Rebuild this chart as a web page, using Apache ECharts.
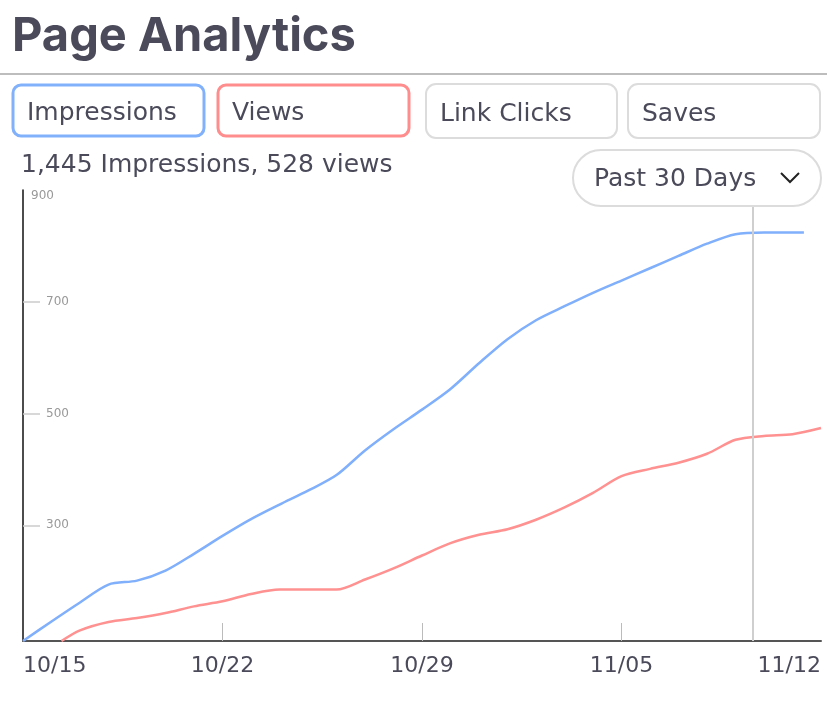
<!DOCTYPE html>
<html>
<head>
<meta charset="utf-8">
<script src="https://cdn.jsdelivr.net/npm/echarts@6/dist/echarts.min.js"></script>
<style>
  html, body { margin: 0; padding: 0; background: #fff; }
  #chart { width: 827px; height: 702px; }
</style>
</head>
<body>
<div id="chart"></div>
<script>
// x: days since 10/15, y: cumulative counts
var dateLabels = ['10/15', '10/22', '10/29', '11/05', '11/12'];
var yLabels = [300, 500, 700, 900];

var impressionDays = [0, 1, 2, 3, 4, 5, 6, 7, 8, 9, 10, 11, 12, 13, 14, 15, 16, 17, 18, 19, 20, 21, 22, 23, 24, 25, 26, 27, 27.4];
var impressions = [93, 128, 162, 194, 201, 219, 249, 281, 311, 337, 362, 390, 434, 472, 507, 544, 590, 633, 667, 692, 716, 738, 760, 782, 804, 821, 824, 824, 824];

var viewDays = [1.35, 2, 3, 4, 5, 6, 7, 8, 9, 10, 11, 12, 13, 14, 15, 16, 17, 18, 19, 20, 21, 22, 23, 24, 25, 26, 27, 28];
var views = [93, 112, 127, 134, 143, 155, 164, 177, 185, 185, 185, 203, 223, 246, 268, 283, 293, 310, 332, 358, 388, 401, 412, 428, 453, 460, 463, 474];

var cursorDay = 25.6;

var FONT = '"DejaVu Sans"';
var TITLE_FONT = 'Inter';
var TEXT = '#4b4a5a';

function pairs(xs, ys) {
    return xs.map(function (x, i) { return [x, ys[i]]; });
}

function button(x, y, w, h, r, stroke, lw, label) {
    return [
        {
            type: 'rect', z: 100,
            shape: { x: x, y: y, width: w, height: h, r: r },
            style: { fill: '#fff', stroke: stroke, lineWidth: lw }
        },
        {
            type: 'text', z: 101, x: x + 14, y: y + h / 2 + 3,
            style: { text: label, fill: TEXT, font: '25px ' + FONT, verticalAlign: 'middle' }
        }
    ];
}

var chart = echarts.init(document.getElementById('chart'));

var graphics = [
    {
        type: 'text', z: 100, x: 12, y: 37,
        style: { text: 'Page Analytics', fill: TEXT, font: 'bold 47px ' + TITLE_FONT, verticalAlign: 'middle' }
    },
    {
        type: 'line', z: 100,
        shape: { x1: 0, y1: 74, x2: 827, y2: 74 },
        style: { stroke: '#bdbdbd', lineWidth: 2 }
    },
    {
        type: 'text', z: 100, x: 21, y: 165,
        style: { text: '1,445 Impressions, 528 views', fill: TEXT, font: '25px ' + FONT, verticalAlign: 'middle' }
    },
    {
        type: 'rect', z: 100,
        shape: { x: 573, y: 150, width: 248, height: 56, r: 28 },
        style: { fill: '#fff', stroke: '#dcdcdc', lineWidth: 2 }
    },
    {
        type: 'text', z: 101, x: 594, y: 179,
        style: { text: 'Past 30 Days', fill: TEXT, font: '25px ' + FONT, verticalAlign: 'middle' }
    },
    {
        type: 'polyline', z: 101,
        shape: { points: [[781, 173], [790, 182], [799, 173]] },
        style: { stroke: '#222', lineWidth: 2, fill: null }
    }
]
    .concat(button(13, 85, 191, 51, 8, '#82b1fb', 3, 'Impressions'))
    .concat(button(218, 85, 191, 51, 8, '#ff8d8d', 3, 'Views'))
    .concat(button(426, 84, 191, 54, 10, '#dcdcdc', 2, 'Link Clicks'))
    .concat(button(628, 84, 192, 54, 10, '#dcdcdc', 2, 'Saves'));

var option = {
    animation: false,
    graphic: graphics,
    grid: { left: 23, right: 6, top: 190, bottom: 61 },
    xAxis: {
        type: 'value',
        min: 0,
        max: 28,
        interval: 7,
        axisLine: { lineStyle: { color: '#555', width: 2 } },
        axisTick: {
            inside: true, length: 18, customValues: [7, 14, 21],
            lineStyle: { color: '#bbb', width: 1 }
        },
        axisLabel: {
            margin: 14,
            fontFamily: FONT, fontSize: 22, color: TEXT,
            alignMinLabel: 'left', alignMaxLabel: 'right',
            formatter: function (v) { return dateLabels[Math.round(v / 7)]; }
        },
        splitLine: { show: false }
    },
    yAxis: {
        type: 'value',
        min: 93,
        max: 900,
        axisLine: { show: true, lineStyle: { color: '#111', width: 1.5 } },
        axisTick: {
            show: true, inside: true, length: 17, customValues: [300, 500, 700],
            lineStyle: { color: '#ccc', width: 1.5 }
        },
        axisLabel: {
            inside: true, margin: 8, customValues: yLabels,
            fontFamily: FONT, fontSize: 12, color: '#999',
            formatter: function (v) { return v === 900 ? '{top|900}' : '{n|' + v + '}'; },
            rich: {
                top: { padding: [12, 0, 0, 0], fontFamily: FONT, fontSize: 12, color: '#999' },
                n: { padding: [0, 0, 0, 15], fontFamily: FONT, fontSize: 12, color: '#999' }
            }
        },
        splitLine: { show: false }
    },
    series: [
        {
            name: 'Impressions',
            type: 'line',
            smooth: 0.3,
            showSymbol: false,
            data: pairs(impressionDays, impressions),
            lineStyle: { color: '#80affb', width: 2.5 },
            markLine: {
                silent: true,
                symbol: ['none', 'none'],
                label: { show: false },
                lineStyle: { color: '#cfcfcf', width: 2, type: 'solid' },
                data: [{ xAxis: cursorDay }]
            }
        },
        {
            name: 'Views',
            type: 'line',
            smooth: 0.3,
            showSymbol: false,
            data: pairs(viewDays, views),
            lineStyle: { color: '#ff9191', width: 2.5 }
        }
    ]
};

chart.setOption(option);
</script>
</body>
</html>
